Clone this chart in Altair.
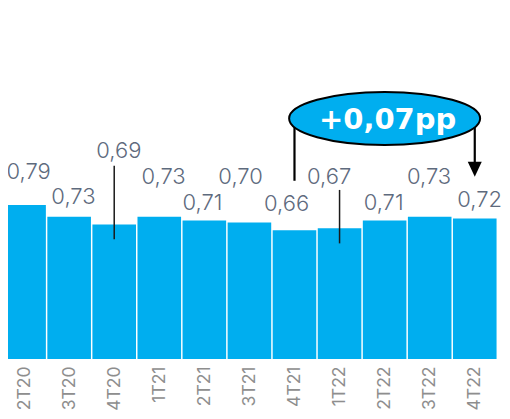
import altair as alt
import pandas as pd

# ---- data ----
quarters = ["2T20", "3T20", "4T20", "1T21", "2T21", "3T21", "4T21", "1T22", "2T22", "3T22", "4T22"]
values = [0.79, 0.73, 0.69, 0.73, 0.71, 0.70, 0.66, 0.67, 0.71, 0.73, 0.72]
value_labels = ["0,79", "0,73", "0,69", "0,73", "0,71", "0,70", "0,66", "0,67", "0,71", "0,73", "0,72"]
annotation_text = "+0,07pp"
annotation_from = "4T21"
annotation_to = "4T22"

# ---- layout (label placement in value units / nudges in bar steps) ----
label_level = [0.9215, 0.795, 1.029, 0.897, 0.764, 0.897, 0.761, 0.897, 0.764, 0.897, 0.781]
label_nudge = [0.102, 0.096, 0.102, 0.096, -0.043, -0.196, -0.174, -0.230, -0.022, -0.013, 0.109]
leaders = [("4T20", 0.991, 0.614), ("1T22", 0.867, 0.593)]
ellipse_level = 1.233
left_line_end = 0.914
right_line_end = 1.010
arrow_level = 0.973
bar_half = 0.4837

BLUE = "#00AEEF"
LABEL_COLOR = "#5E6A7D"
AXIS_COLOR = "#8E8E8E"

PLOT_W = 494
PLOT_H = 351
STEP = 46.0
X_LO = -0.2457
X_HI = X_LO + PLOT_W / STEP

idx = {q: i for i, q in enumerate(quarters)}

df = pd.DataFrame({
    "i": list(range(len(quarters))),
    "v": values,
    "lab": value_labels,
    "ly": label_level,
})
df["x0"] = df["i"] - bar_half
df["x1"] = df["i"] + bar_half
df["lx"] = df["i"] + pd.Series(label_nudge)

lead_df = pd.DataFrame({
    "i": [idx[q] for q, _, _ in leaders],
    "y1": [a for _, a, _ in leaders],
    "y2": [b for _, _, b in leaders],
})
brk_df = pd.DataFrame({
    "i": [idx[annotation_from], idx[annotation_to]],
    "y1": [ellipse_level, ellipse_level],
    "y2": [left_line_end, right_line_end],
})
arrow_df = pd.DataFrame({"i": [idx[annotation_to]], "y": [arrow_level]})
ell_df = pd.DataFrame({
    "i": [(idx[annotation_from] + idx[annotation_to]) / 2],
    "y": [ellipse_level],
    "t": [annotation_text],
})

xscale = alt.Scale(domain=[X_LO, X_HI], nice=False, zero=False)
yscale = alt.Scale(domain=[0, PLOT_H / 195.0], nice=False)

label_expr = "[" + ",".join(f"'{q}'" for q in quarters) + "][datum.value]"
x_axis = alt.Axis(
    values=list(range(len(quarters))), labelExpr=label_expr,
    labelAngle=-90, domain=False, ticks=False, tickSize=0, labelPadding=7, grid=False,
    labelFont="Inter", labelFontSize=17.5, labelColor=AXIS_COLOR, labelOverlap=False,
    labelBound=False, labelFlush=False,
)

bars = alt.Chart(df).mark_bar(color=BLUE, orient="vertical").encode(
    x=alt.X("x0:Q", scale=xscale, axis=x_axis, title=None),
    x2="x1:Q",
    y=alt.Y("v:Q", scale=yscale, axis=None),
    y2=alt.datum(0),
)

labels = alt.Chart(df).mark_text(
    font="Inter", fontSize=22, fontWeight=300, color=LABEL_COLOR, baseline="alphabetic", align="center"
).encode(
    x=alt.X("lx:Q", scale=xscale),
    y=alt.Y("ly:Q", scale=yscale, axis=None),
    text="lab:N",
)

lead = alt.Chart(lead_df).mark_rule(color="#1A1A1A", strokeWidth=1.5).encode(
    x=alt.X("i:Q", scale=xscale), y=alt.Y("y1:Q", scale=yscale, axis=None), y2="y2:Q"
)

brk = alt.Chart(brk_df).mark_rule(color="#000000", strokeWidth=2.2).encode(
    x=alt.X("i:Q", scale=xscale), y=alt.Y("y1:Q", scale=yscale, axis=None), y2="y2:Q"
)

arrow = alt.Chart(arrow_df).mark_point(
    shape="M -1 -1.07 L 1 -1.07 L 0 1.07 Z", size=196, filled=True, color="#000000", opacity=1
).encode(x=alt.X("i:Q", scale=xscale), y=alt.Y("y:Q", scale=yscale, axis=None))

k = 53.0 / 191.0
c = 0.5523
ell_path = (
    f"M -1 0 C -1 {-k*c:.4f} {-c:.4f} {-k:.4f} 0 {-k:.4f} "
    f"C {c:.4f} {-k:.4f} 1 {-k*c:.4f} 1 0 "
    f"C 1 {k*c:.4f} {c:.4f} {k:.4f} 0 {k:.4f} "
    f"C {-c:.4f} {k:.4f} -1 {k*c:.4f} -1 0 Z"
)
ellipse = alt.Chart(ell_df).mark_point(
    shape=ell_path, size=191 * 191, filled=True, fill=BLUE, stroke="#000000", strokeWidth=2, opacity=1
).encode(x=alt.X("i:Q", scale=xscale), y=alt.Y("y:Q", scale=yscale, axis=None))

ell_text = alt.Chart(ell_df).mark_text(
    font="DejaVu Sans", fontSize=29, fontWeight="bold", color="#FFFFFF", baseline="middle", align="center", dx=3, dy=1
).encode(x=alt.X("i:Q", scale=xscale), y=alt.Y("y:Q", scale=yscale, axis=None), text="t:N")

chart = alt.layer(bars, lead, labels, brk, arrow, ellipse, ell_text).properties(
    width=PLOT_W, height=PLOT_H,
    autosize=alt.AutoSizeParams(type="none"),
    padding={"left": 0, "right": 0, "top": 0, "bottom": 52},
).configure_view(stroke=None)

chart.save("out.html", embed_options={"renderer": "svg", "actions": False})
